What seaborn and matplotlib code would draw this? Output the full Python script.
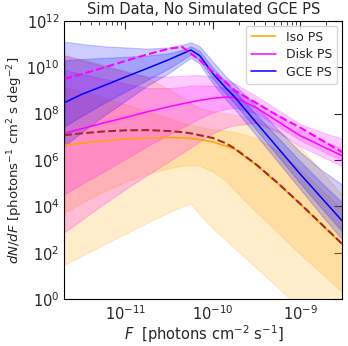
import matplotlib
matplotlib.use("Agg")
import matplotlib.pyplot as plt
import numpy as np
import pandas as pd
import seaborn as sns
from matplotlib.ticker import LogLocator, NullLocator

sns.set_style("white")
plt.rcParams["font.family"] = ["DejaVu Sans"]

# flux grid, log10(F / photons cm^-2 s^-1)
log_flux = [-11.7, -11.5, -11.25, -11.0, -10.75, -10.5, -10.35, -10.25, -10.15,
            -10.0, -9.85, -9.75, -9.5, -9.25, -9.0, -8.75, -8.5]

# log10 dN/dF
iso_med = [6.64, 6.72, 6.83, 6.9, 6.95, 6.97, 6.96, 6.93, 6.88, 6.78, 6.6, 6.47, 5.78, 4.97, 4.1, 3.2, 2.3]
iso_lo68 = [3.74, 4.15, 4.65, 5.05, 5.4, 5.65, 5.75, 5.78, 5.76, 5.5, 5.1, 4.7, 3.75, 2.85, 1.95, 1.1, 0.25]
iso_hi68 = [9.13, 8.95, 8.7, 8.4, 8.1, 7.8, 7.6, 7.5, 7.42, 7.33, 7.25, 7.2, 6.95, 6.4, 5.6, 4.7, 3.8]
iso_lo95 = [1.48, 1.87, 2.35, 2.82, 3.3, 3.75, 4.0, 4.12, 3.65, 3.05, 2.55, 2.2, 1.35, 0.5, -0.4, -1.3, -2.2]
iso_hi95 = [10.52, 10.35, 10.1, 9.85, 9.55, 9.05, 8.7, 8.45, 8.22, 8.1, 8.0, 7.95, 7.78, 7.25, 6.55, 5.5, 4.4]
iso_true = [7.07, 7.15, 7.23, 7.28, 7.29, 7.25, 7.2, 7.15, 7.07, 6.95, 6.72, 6.5, 5.8, 4.99, 4.12, 3.22, 2.32]

disk_med = [7.15, 7.35, 7.6, 7.83, 8.08, 8.3, 8.42, 8.5, 8.57, 8.66, 8.71, 8.7, 8.25, 7.65, 7.05, 6.6, 6.15]
disk_lo68 = [4.53, 4.97, 5.5, 6.05, 6.6, 7.1, 7.4, 7.6, 7.8, 8.05, 8.2, 8.25, 8.0, 7.45, 6.85, 6.4, 5.95]
disk_hi68 = [9.9, 9.7, 9.5, 9.3, 9.1, 9.1, 9.15, 9.2, 9.22, 9.2, 9.1, 8.97, 8.5, 7.9, 7.3, 6.85, 6.45]
disk_lo95 = [2.88, 3.43, 4.1, 4.75, 5.35, 5.95, 6.3, 6.55, 6.8, 7.15, 7.4, 7.5, 7.6, 7.2, 6.6, 6.15, 5.7]
disk_hi95 = [10.5, 10.3, 10.05, 9.8, 9.6, 9.6, 9.63, 9.65, 9.66, 9.6, 9.45, 9.3, 8.75, 8.15, 7.55, 7.2, 6.9]
disk_true = [9.5, 9.7, 9.98, 10.27, 10.55, 10.8, 10.87, 10.58, 10.3, 9.8, 9.35, 9.0, 8.45, 7.9, 7.4, 6.85, 6.3]

gce_med = [8.47, 8.83, 9.2, 9.58, 9.95, 10.33, 10.58, 10.74, 10.5, 9.73, 9.1, 8.72, 7.6, 6.5, 5.4, 4.35, 3.3]
gce_lo68 = [7.45, 7.9, 8.45, 8.95, 9.45, 9.95, 10.3, 10.55, 10.3, 9.5, 8.85, 8.45, 7.3, 6.15, 5.0, 3.9, 2.85]
gce_hi68 = [10.3, 10.35, 10.4, 10.45, 10.5, 10.6, 10.75, 10.9, 10.7, 9.98, 9.35, 8.98, 7.95, 6.95, 5.95, 5.0, 4.1]
gce_lo95 = [6.6, 7.2, 7.9, 8.55, 9.2, 9.75, 10.15, 10.4, 10.15, 9.3, 8.6, 8.2, 7.05, 5.9, 4.75, 3.6, 2.5]
gce_hi95 = [11.1, 11.0, 10.9, 10.85, 10.8, 10.85, 10.97, 11.07, 10.9, 10.25, 9.6, 9.25, 8.3, 7.3, 6.35, 5.55, 4.9]

labels = ["Iso PS", "Disk PS", "GCE PS"]
colors = ["orange", "magenta", "blue"]
x_ticks = [1e-11, 1e-10, 1e-9]
y_ticks = [1e0, 1e2, 1e4, 1e6, 1e8, 1e10, 1e12]

F = np.power(10.0, log_flux)


def to_lin(v):
    return np.power(10.0, np.asarray(v))


fig = plt.figure(figsize=(3.48, 3.46), dpi=100)
ax = fig.add_axes([0.185, 0.135, 0.799, 0.805])

bands = [
    (iso_med, iso_lo68, iso_hi68, iso_lo95, iso_hi95),
    (disk_med, disk_lo68, disk_hi68, disk_lo95, disk_hi95),
    (gce_med, gce_lo68, gce_hi68, gce_lo95, gce_hi95),
]

for (med, lo68, hi68, lo95, hi95), lab, col in zip(bands, labels, colors):
    ax.fill_between(F, to_lin(lo95), to_lin(hi95), color=col, alpha=0.2, lw=0.8)
    ax.fill_between(F, to_lin(lo68), to_lin(hi68), color=col, alpha=0.2, lw=0.8)
    df = pd.DataFrame({"F": F, "dNdF": to_lin(med)})
    sns.lineplot(data=df, x="F", y="dNdF", ax=ax, color=col, lw=1.1, label=lab)

true_df = pd.DataFrame({"F": F, "iso": to_lin(iso_true), "disk": to_lin(disk_true)})
sns.lineplot(data=true_df, x="F", y="disk", ax=ax, color="magenta", lw=1.5,
             linestyle="--", dashes=(4, 2.5), legend=False)
sns.lineplot(data=true_df, x="F", y="iso", ax=ax, color="brown", lw=1.5,
             linestyle="--", dashes=(4, 2.5), legend=False)

ax.set_xscale("log")
ax.set_yscale("log")
ax.set_xlim(2.0e-12, 3.05e-9)
ax.set_ylim(1e0, 1e12)
ax.set_xticks(x_ticks)
ax.set_yticks(y_ticks)
ax.yaxis.set_minor_locator(NullLocator())
ax.xaxis.set_minor_locator(LogLocator(base=10, subs=np.arange(2, 10)))
ax.tick_params(which="both", direction="in", top=True, right=True, labelsize=10.5)
ax.tick_params(which="major", length=6)
ax.tick_params(which="minor", length=3)
for s in ax.spines.values():
    s.set_color("black")
    s.set_linewidth(0.8)

ax.set_title("Sim Data, No Simulated GCE PS", fontsize=10.5, pad=5)
ax.set_xlabel(r"$F$  [photons cm$^{-2}$ s$^{-1}$]", fontsize=10.5, labelpad=0)
ax.set_ylabel(r"$dN/dF$ [photons$^{-1}$ cm$^2$ s deg$^{-2}$]", fontsize=9.5, labelpad=1)

ax.legend(loc="upper right", fontsize=9, frameon=True, labelspacing=0.35,
          handlelength=2.0, borderaxespad=0.4)

fig.savefig("out.png", dpi=100)
